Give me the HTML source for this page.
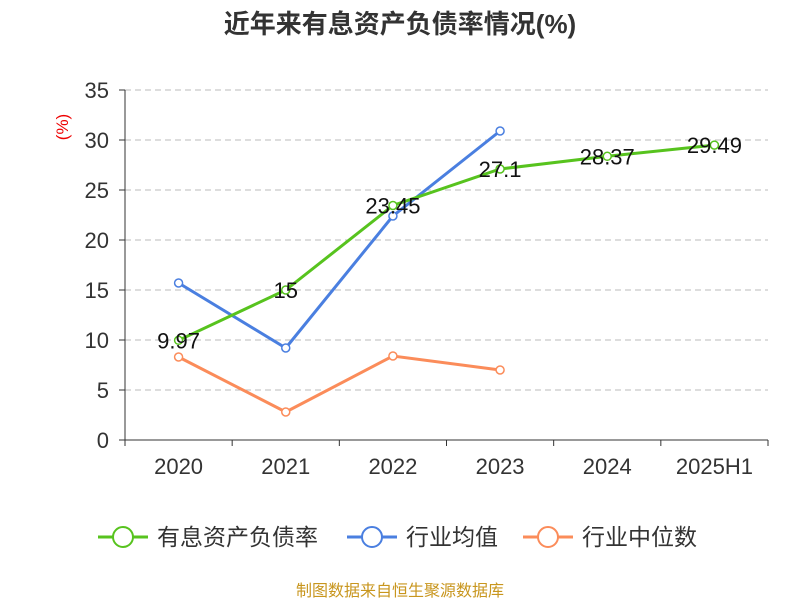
<!DOCTYPE html>
<html><head><meta charset="utf-8"><style>
body{margin:0;background:#fff;}
svg text{font-family:"Liberation Sans","Noto Sans CJK SC",sans-serif;}
</style></head><body>
<svg id="chart" width="800" height="600">
<text x="400" y="33" text-anchor="middle" font-size="26" font-weight="bold" fill="#333">近年来有息资产负债率情况(%)</text>
<text transform="translate(68,127) rotate(-90)" text-anchor="middle" font-size="17" fill="#e00">(%)</text>
<g id="grid"></g><g id="axes"></g><g id="series"></g>
<g id="legend"></g>
<text x="400" y="596" text-anchor="middle" font-size="16" fill="#c8961e">制图数据来自恒生聚源数据库</text>
</svg>
<script>
const categories=["2020","2021","2022","2023","2024","2025H1"];
const yTicks=[0,5,10,15,20,25,30,35];
const debtRatio=[9.97,15,23.45,27.1,28.37,29.49];
const debtLabels=["9.97","15","23.45","27.1","28.37","29.49"];
const industryMean=[15.7,9.2,22.4,30.9];
const industryMedian=[8.3,2.8,8.4,7.0];
const NS="http://www.w3.org/2000/svg";
const x0=125,x1=768,yBase=440,yTop=90,yMax=35;
const bw=(x1-x0)/categories.length;
const X=i=>x0+bw*(i+0.5);
const Y=v=>yBase-(v/yMax)*(yBase-yTop);
function mk(t,a,p){const e=document.createElementNS(NS,t);for(const k in a)e.setAttribute(k,a[k]);p.appendChild(e);return e;}
const grid=document.getElementById('grid'),axes=document.getElementById('axes'),ser=document.getElementById('series'),leg=document.getElementById('legend');
yTicks.forEach(t=>{
 if(t>0){const l=mk('line',{x1:x0,x2:x1,y1:Y(t),y2:Y(t),stroke:'#bbb','stroke-dasharray':'6,4'},grid);
 
 }
 mk('line',{x1:x0-6,x2:x0,y1:Y(t),y2:Y(t),stroke:'#333'},axes);
 const tx=mk('text',{x:x0-16,y:Y(t)+8,'text-anchor':'end','font-size':22,fill:'#333'},axes);tx.textContent=t;
 
 
});
mk('line',{x1:x0,x2:x0,y1:yTop,y2:yBase,stroke:'#333'},axes);
mk('line',{x1:x0,x2:x1,y1:yBase,y2:yBase,stroke:'#333'},axes);
for(let i=0;i<=categories.length;i++)mk('line',{x1:x0+bw*i,x2:x0+bw*i,y1:yBase,y2:yBase+6,stroke:'#333'},axes);
categories.forEach((c,i)=>{const t=mk('text',{x:X(i),y:474,'text-anchor':'middle','font-size':22,fill:'#333'},axes);t.textContent=c;
 
 });
function line(vals,color,name){
 const g=mk('g',{},ser);
 
 
 mk('polyline',{points:vals.map((v,i)=>X(i)+','+Y(v)).join(' '),fill:'none',stroke:color,'stroke-width':3},g);
 vals.forEach((v,i)=>{const c=mk('circle',{cx:X(i),cy:Y(v),r:4,fill:'#fff',stroke:color,'stroke-width':1.5},g);
 
 });
}
line(industryMedian,'#fb8c5a','industry-median-line');
line(industryMean,'#4a7fe0','industry-mean-line');
line(debtRatio,'#57c31e','debt-ratio-line');
debtRatio.forEach((v,i)=>{const t=mk('text',{x:X(i),y:Y(v)+8,'text-anchor':'middle','font-size':22,fill:'#111'},ser);t.textContent=debtLabels[i];
 
 });
[['有息资产负债率','#57c31e',98],['行业均值','#4a7fe0',347],['行业中位数','#fb8c5a',523]].forEach(([n,c,x])=>{
 const g=mk('g',{},leg);
 
 
 mk('line',{x1:x,x2:x+50,y1:537,y2:537,stroke:c,'stroke-width':3},g);
 mk('circle',{cx:x+25,cy:537,r:10,fill:'#fff',stroke:c,'stroke-width':2},g);
 const t=mk('text',{x:x+59,y:545,'font-size':23,fill:'#333'},g);t.textContent=n;
});
</script>
</body></html>
